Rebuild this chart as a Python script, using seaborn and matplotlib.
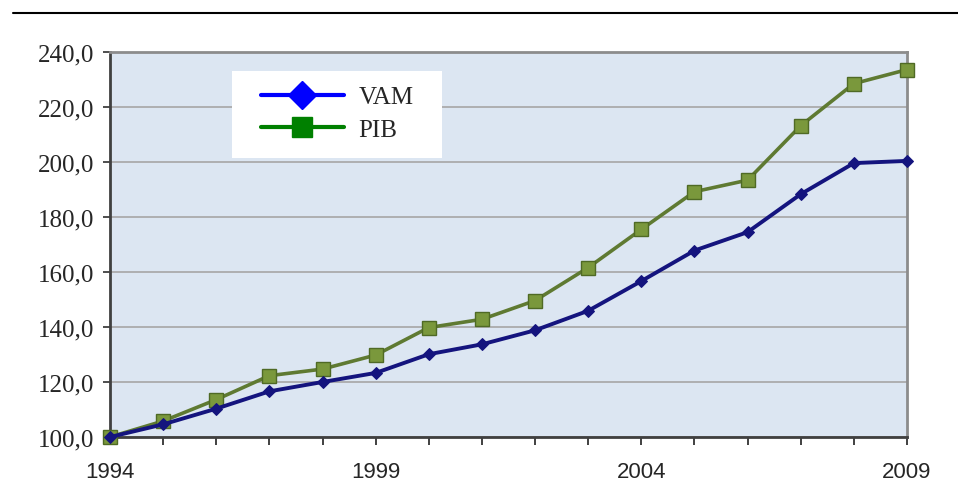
import matplotlib
matplotlib.use("Agg")
import matplotlib.pyplot as plt
from matplotlib.lines import Line2D
from matplotlib.patches import Rectangle
import pandas as pd
import seaborn as sns

years = list(range(1994, 2010))
vam = [100.0, 104.6, 110.3, 116.6, 120.0, 123.3, 130.1, 133.7, 138.8, 145.9,
       156.7, 167.8, 174.5, 188.3, 199.6, 200.4]
pib = [100.0, 105.8, 113.6, 122.3, 124.7, 129.8, 139.8, 142.8, 149.6, 161.6,
       175.5, 189.2, 193.4, 213.2, 228.5, 233.6]
y_ticks = [100, 120, 140, 160, 180, 200, 220, 240]
x_labels = [1994, 1999, 2004, 2009]

df = pd.DataFrame({"year": years, "VAM": vam, "PIB": pib})

sns.set_style("white")
plt.rcParams["font.family"] = ["Liberation Serif", "DejaVu Serif"]

fig = plt.figure(figsize=(9.58, 5.02), dpi=100)
ax = fig.add_axes([110 / 958, 64 / 502, 797 / 958, 385 / 502])
ax.set_facecolor("#DCE6F2")

# data lines
sns.lineplot(x="year", y="PIB", data=df, ax=ax, color="#5F7A32", linewidth=2.6,
             marker="s", markersize=10, markerfacecolor="#7A983C",
             markeredgecolor="#4F6A25", markeredgewidth=1, zorder=4, clip_on=False)
sns.lineplot(x="year", y="VAM", data=df, ax=ax, color="#14147E", linewidth=2.8,
             marker="D", markersize=6, markerfacecolor="#14147E",
             markeredgecolor="#14147E", zorder=5, clip_on=False)

ax.set_xlim(1994, 2009)
ax.set_ylim(100, 240)
ax.set_xlabel("")
ax.set_ylabel("")

# axes
ax.set_yticks(y_ticks)
ax.set_yticklabels([f"{v:.1f}".replace(".", ",") for v in y_ticks],
                   fontsize=18, family=["Liberation Serif", "DejaVu Serif"])
ax.set_xticks(years)
ax.set_xticklabels([str(y) if y in x_labels else "" for y in years],
                   fontsize=16, family=["Liberation Sans", "DejaVu Sans"])
ax.tick_params(axis="y", direction="out", length=5, width=1.2, color="#303030",
               pad=6, left=True)
ax.tick_params(axis="x", direction="out", length=6, width=1.2, color="#202020",
               pad=11, bottom=True)
ax.yaxis.grid(True, color="#A6A6A6", linewidth=1.2)
ax.xaxis.grid(False)
ax.set_axisbelow(True)
for side in ["left", "bottom"]:
    ax.spines[side].set_color("#404040")
    ax.spines[side].set_linewidth(2)
for side in ["top", "right"]:
    ax.spines[side].set_visible(True)
    ax.spines[side].set_color("#8C8C8C")
    ax.spines[side].set_linewidth(2)

# legend: white box behind, legend entries without frame
ax.add_patch(Rectangle((122 / 797, (438 - 159) / 385), 210 / 797, 87 / 385,
                       transform=ax.transAxes, facecolor="white",
                       edgecolor="none", zorder=6))
handles = [
    Line2D([], [], color="#0000FF", linewidth=3, marker="D", markersize=14,
           markerfacecolor="#0000FF", markeredgecolor="#0000FF"),
    Line2D([], [], color="#008000", linewidth=3, marker="s", markersize=15,
           markerfacecolor="#008000", markeredgecolor="#008000"),
]
leg = ax.legend(handles, ["VAM", "PIB"], loc="upper left",
                bbox_to_anchor=(151 / 797, (438 - 87) / 385),
                frameon=False, handlelength=3.3, handletextpad=0.6,
                borderpad=0, labelspacing=0.4, borderaxespad=0,
                prop={"family": "Liberation Serif", "size": 18})
leg.set_zorder(7)

# top rule
fig.add_artist(Line2D([13 / 958, 1], [1 - 14 / 502, 1 - 14 / 502],
                      color="black", linewidth=1.5))

fig.savefig("out.png", dpi=100)
